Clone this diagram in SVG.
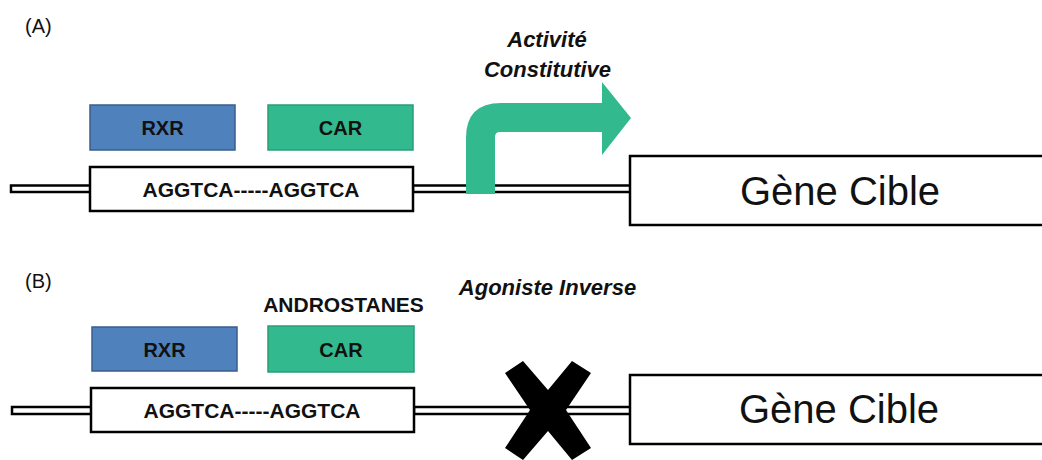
<svg xmlns="http://www.w3.org/2000/svg" width="1042" height="460" viewBox="0 0 1042 460">
<style>
.lbl{font-family:"Liberation Sans",Arial,sans-serif;font-size:20px;fill:#111}
.b{font-family:"Liberation Sans",Arial,sans-serif;font-weight:bold;fill:#111;text-anchor:middle}
.bi{font-family:"Liberation Sans",Arial,sans-serif;font-weight:bold;font-style:italic;font-size:22px;fill:#111;text-anchor:middle}
.gene{font-family:"Liberation Sans",Arial,sans-serif;font-size:40px;fill:#111;text-anchor:middle}
.dna{fill:#fff;stroke:#000;stroke-width:2.5}
.box{fill:#fff;stroke:#000;stroke-width:2.5}
.rxr{fill:#4F81BD;stroke:#385D8A;stroke-width:1.5}
.car{fill:#33B98E;stroke:#2A9D78;stroke-width:1.5}
</style>
<rect width="1042" height="460" fill="#fff"/>
<g id="connectors">
<rect class="dna" x="11" y="185.5" width="80" height="6.5"/>
<rect class="dna" x="413" y="185.5" width="218" height="6.5"/>
<rect class="dna" x="12" y="407" width="80" height="7"/>
<rect class="dna" x="414" y="407" width="217" height="7"/>
</g>
<g id="panelA">
<text class="lbl" x="25" y="33">(A)</text>
</g>
<g id="rxrA"><rect class="rxr" x="90" y="105" width="145" height="45"/><text class="b" x="162.5" y="135" font-size="20">RXR</text></g>
<g id="carA"><rect class="car" x="268" y="105" width="145" height="45"/><text class="b" x="340.5" y="135" font-size="20">CAR</text></g>
<g id="seqA"><rect class="box" x="90" y="167" width="323" height="44"/><text class="b" x="251" y="197" font-size="21">AGGTCA-----AGGTCA</text></g>
<g id="geneA"><rect class="box" x="630" y="156" width="420" height="69"/><text class="gene" x="840" y="205">Gène Cible</text></g>
<g id="arrowA">
<path d="M466,194 L466,138 Q466,103 501,103 L602,103 L602,82 L631,118 L602,155 L602,132 L500,132 Q495,132 495,137 L495,194 Z" fill="#33B98E"/>
<text class="bi" x="547" y="47">Activité</text>
<text class="bi" x="547.5" y="77">Constitutive</text>
</g>
<g id="panelB">
<text class="lbl" x="25" y="288">(B)</text>
</g>
<g id="rxrB"><rect class="rxr" x="92" y="327" width="145" height="44"/><text class="b" x="164.5" y="357" font-size="20">RXR</text></g>
<g id="carB"><rect class="car" x="268" y="326" width="146" height="46"/><text class="b" x="341" y="357" font-size="20">CAR</text>
<text class="b" x="343.5" y="312" font-size="21">ANDROSTANES</text></g>
<g id="seqB"><rect class="box" x="91" y="388" width="323" height="44"/><text class="b" x="252" y="418" font-size="21">AGGTCA-----AGGTCA</text></g>
<g id="geneB"><rect class="box" x="630" y="375" width="420" height="69"/><text class="gene" x="839" y="423">Gène Cible</text></g>
<g id="inverse">
<text class="bi" x="547.5" y="295">Agoniste Inverse</text>
<polygon points="505,373 523,361 548,390 572,361 591,373 566,410 591,448 572,460 548,431 523,460 505,448 530,410" fill="#000"/>
</g>
</svg>
